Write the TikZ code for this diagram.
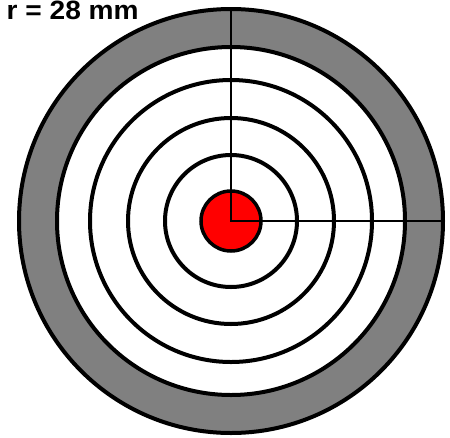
\documentclass[tikz,border=0pt]{standalone}
\usepackage{graphicx}
\usepackage{fontspec}
\setmainfont{Liberation Sans}
\begin{document}
\begin{tikzpicture}[x=1pt,y=-1pt,
  ring/.style={draw=black,line width=4pt},
  cross/.style={draw=black,line width=1.8pt},
  lbl/.style={font=\fontsize{25}{30}\selectfont\bfseries,inner sep=0pt,anchor=base west}]
\useasboundingbox (0,0) rectangle (450,437);
\coordinate (c) at (231,221);
\fill[gray] (c) circle (212);
\fill[white] (c) circle (174);
\draw[ring] (c) circle (212);
\draw[ring] (c) circle (174);
\draw[ring] (c) circle (141);
\draw[ring] (c) circle (103);
\draw[ring] (c) circle (66);
\filldraw[fill=red,draw=black,line width=3.5pt] (c) circle (30);
\coordinate (top) at (231,9);
\coordinate (right) at (443,221);
\draw[cross] (top) -- (c) -- (right);
\node[lbl] (t) at (6.5,19.5) {\resizebox{132pt}{18.5pt}{r = 28 mm}};
\end{tikzpicture}
\end{document}
